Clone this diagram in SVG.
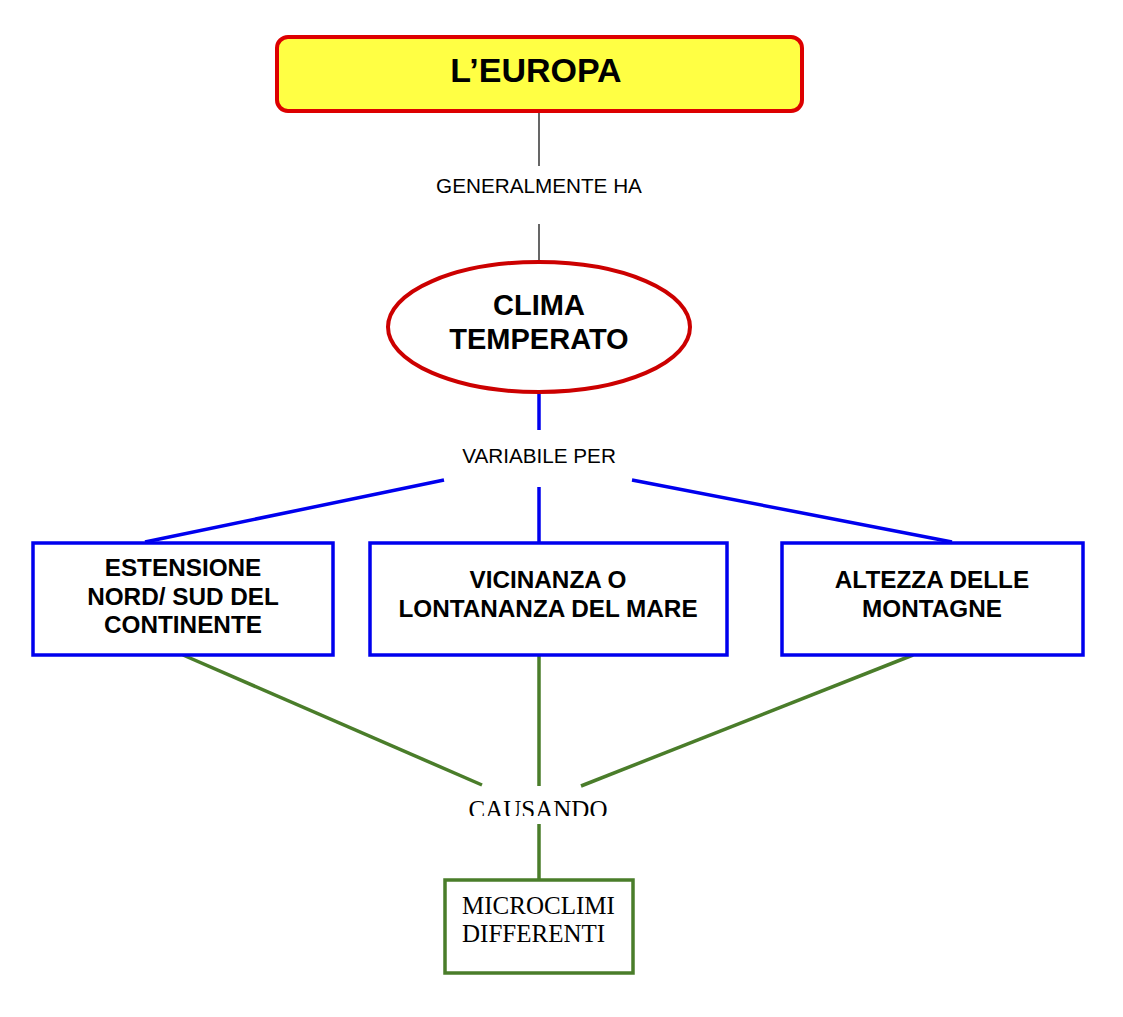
<svg xmlns="http://www.w3.org/2000/svg" width="1123" height="1017" viewBox="0 0 1123 1017">
<style>
.sans{font-family:"Liberation Sans",Arial,sans-serif;fill:#000}
.b{font-weight:bold}
.serif{font-family:"Liberation Serif","Times New Roman",serif;fill:#000}
.blue{fill:#fff;stroke:#0000ee;stroke-width:3.5}
.bl{stroke:#0000ee;stroke-width:3.5;fill:none}
.gr{stroke:#4a7d2a;stroke-width:3.5;fill:none}
.bt{font-size:24.3px}
</style>
<defs>
<clipPath id="cc"><rect x="440" y="780" width="200" height="36"/></clipPath>
</defs>
<rect width="1123" height="1017" fill="#fff"/>
<g id="connectors">
<line x1="539" y1="111" x2="539" y2="166" stroke="#000" stroke-width="1.2"/>
<line x1="539" y1="224" x2="539" y2="262" stroke="#000" stroke-width="1.2"/>
<line class="bl" x1="539" y1="392" x2="539" y2="430"/>
<line class="bl" x1="444" y1="480" x2="145" y2="542"/>
<line class="bl" x1="539" y1="487" x2="539" y2="542"/>
<line class="bl" x1="632" y1="480" x2="952" y2="542"/>
<line class="gr" x1="183" y1="655" x2="482" y2="785"/>
<line class="gr" x1="539" y1="655" x2="539" y2="786"/>
<line class="gr" x1="913" y1="655" x2="581" y2="786"/>
<line class="gr" x1="539" y1="824" x2="539" y2="880"/>
<text class="sans" x="539" y="193" font-size="20.7" text-anchor="middle">GENERALMENTE HA</text>
<text class="sans" x="539" y="463" font-size="20.7" text-anchor="middle">VARIABILE PER</text>
<text class="serif" x="538" y="818" font-size="25" text-anchor="middle" clip-path="url(#cc)">CAUSANDO</text>
</g>
<g id="europa">
<rect x="277" y="37" width="525" height="74" rx="11" fill="#ffff44" stroke="#dd0000" stroke-width="4"/>
<text class="sans b" x="536" y="82" font-size="34" text-anchor="middle">L’EUROPA</text>
</g>
<g id="clima">
<ellipse cx="539" cy="327" rx="151" ry="65" fill="#fff" stroke="#cc0000" stroke-width="4"/>
<text class="sans b" x="539" y="315" font-size="29" text-anchor="middle">CLIMA</text>
<text class="sans b" x="539" y="349" font-size="29" text-anchor="middle">TEMPERATO</text>
</g>
<g id="estensione">
<rect class="blue" x="33" y="543" width="300" height="112"/>
<text class="sans b bt" x="183" y="576" text-anchor="middle">ESTENSIONE</text>
<text class="sans b bt" x="183" y="605" text-anchor="middle">NORD/ SUD DEL</text>
<text class="sans b bt" x="183" y="633" text-anchor="middle">CONTINENTE</text>
</g>
<g id="vicinanza">
<rect class="blue" x="370" y="543" width="357" height="112"/>
<text class="sans b bt" x="548" y="588" text-anchor="middle">VICINANZA O</text>
<text class="sans b bt" x="548" y="617" text-anchor="middle">LONTANANZA DEL MARE</text>
</g>
<g id="altezza">
<rect class="blue" x="782" y="543" width="301" height="112"/>
<text class="sans b bt" x="932" y="588" text-anchor="middle">ALTEZZA DELLE</text>
<text class="sans b bt" x="932" y="617" text-anchor="middle">MONTAGNE</text>
</g>
<g id="microclimi">
<rect x="445" y="880" width="188" height="93" fill="#fff" stroke="#4a7d2a" stroke-width="3.5"/>
<text class="serif" x="462" y="914" font-size="25">MICROCLIMI</text>
<text class="serif" x="462" y="942" font-size="25">DIFFERENTI</text>
</g>
</svg>
